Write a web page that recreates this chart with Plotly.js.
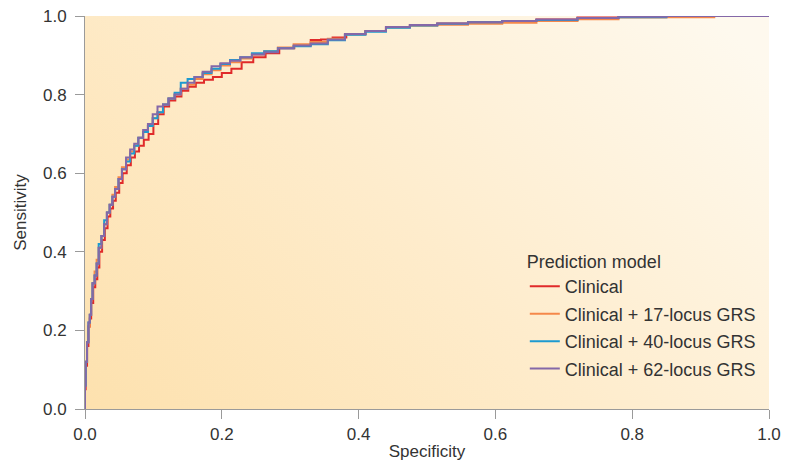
<!DOCTYPE html>
<html>
<head>
<meta charset="utf-8">
<script src="https://cdn.plot.ly/plotly-3.0.1.min.js"></script>
<style>
html,body{margin:0;padding:0;background:#fff;}
#chart{width:787px;height:466px;}
</style>
</head>
<body>
<div id="chart"></div>
<script>
// ---- Data ----
var seriesNames = ["Clinical", "Clinical + 17-locus GRS", "Clinical + 40-locus GRS", "Clinical + 62-locus GRS"];
var seriesColors = ["#e02a2a", "#f5884a", "#1d9ad0", "#8468a8"];

var clinicalX = [0, 0.001, 0.003, 0.005, 0.007, 0.009, 0.012, 0.015, 0.018, 0.021, 0.025, 0.029, 0.033, 0.037, 0.041, 0.045, 0.050, 0.055, 0.061, 0.067, 0.073, 0.079, 0.086, 0.093, 0.100, 0.107, 0.115, 0.123, 0.132, 0.141, 0.151, 0.162, 0.174, 0.187, 0.200, 0.214, 0.229, 0.246, 0.264, 0.284, 0.306, 0.330, 0.345, 0.362, 0.382, 0.410, 0.440, 0.475, 0.515, 0.560, 0.610, 0.660, 0.720, 0.780, 0.850, 0.920, 1.0];
var clinicalY = [0, 0.05, 0.11, 0.16, 0.21, 0.23, 0.27, 0.31, 0.33, 0.36, 0.40, 0.43, 0.46, 0.49, 0.51, 0.53, 0.55, 0.575, 0.60, 0.62, 0.64, 0.655, 0.67, 0.685, 0.70, 0.725, 0.75, 0.77, 0.785, 0.795, 0.81, 0.82, 0.83, 0.838, 0.845, 0.855, 0.866, 0.882, 0.895, 0.905, 0.918, 0.926, 0.939, 0.940, 0.945, 0.954, 0.962, 0.972, 0.977, 0.981, 0.984, 0.987, 0.991, 0.996, 0.998, 1.0, 1.0];

var grs17X = [0, 0.001, 0.003, 0.005, 0.007, 0.009, 0.011, 0.014, 0.017, 0.020, 0.024, 0.028, 0.032, 0.036, 0.040, 0.044, 0.049, 0.054, 0.060, 0.066, 0.072, 0.078, 0.085, 0.092, 0.099, 0.106, 0.114, 0.122, 0.131, 0.140, 0.150, 0.160, 0.172, 0.185, 0.198, 0.212, 0.227, 0.244, 0.262, 0.282, 0.305, 0.330, 0.355, 0.380, 0.410, 0.440, 0.475, 0.515, 0.560, 0.610, 0.660, 0.720, 0.780, 0.850, 0.920, 0.958, 1.0];
var grs17Y = [0, 0.06, 0.12, 0.17, 0.21, 0.24, 0.28, 0.32, 0.35, 0.38, 0.41, 0.44, 0.47, 0.50, 0.52, 0.545, 0.565, 0.59, 0.615, 0.635, 0.655, 0.67, 0.69, 0.705, 0.72, 0.74, 0.755, 0.775, 0.79, 0.80, 0.815, 0.825, 0.84, 0.852, 0.862, 0.874, 0.882, 0.892, 0.902, 0.910, 0.920, 0.928, 0.934, 0.942, 0.953, 0.962, 0.971, 0.975, 0.978, 0.980, 0.983, 0.987, 0.992, 0.996, 0.997, 1.0, 1.0];

var grs40X = [0, 0.001, 0.003, 0.005, 0.007, 0.009, 0.011, 0.014, 0.017, 0.020, 0.024, 0.028, 0.032, 0.036, 0.040, 0.044, 0.049, 0.054, 0.060, 0.066, 0.072, 0.078, 0.085, 0.092, 0.099, 0.106, 0.114, 0.122, 0.131, 0.140, 0.150, 0.160, 0.172, 0.185, 0.198, 0.212, 0.227, 0.244, 0.262, 0.282, 0.305, 0.330, 0.355, 0.380, 0.410, 0.440, 0.475, 0.515, 0.560, 0.610, 0.660, 0.720, 0.780, 0.850, 0.920, 1.0];
var grs40Y = [0, 0.06, 0.12, 0.17, 0.22, 0.24, 0.28, 0.32, 0.34, 0.37, 0.42, 0.44, 0.48, 0.50, 0.52, 0.54, 0.56, 0.585, 0.61, 0.63, 0.65, 0.67, 0.69, 0.705, 0.72, 0.74, 0.755, 0.775, 0.79, 0.805, 0.83, 0.84, 0.845, 0.855, 0.866, 0.878, 0.888, 0.895, 0.905, 0.910, 0.918, 0.923, 0.928, 0.938, 0.952, 0.960, 0.970, 0.976, 0.980, 0.984, 0.987, 0.990, 0.995, 0.997, 1.0, 1.0];

var grs62X = [0, 0.001, 0.003, 0.005, 0.007, 0.009, 0.011, 0.014, 0.017, 0.020, 0.024, 0.028, 0.032, 0.036, 0.040, 0.044, 0.049, 0.054, 0.060, 0.066, 0.072, 0.078, 0.085, 0.092, 0.099, 0.106, 0.114, 0.122, 0.131, 0.140, 0.150, 0.160, 0.172, 0.185, 0.198, 0.212, 0.227, 0.244, 0.262, 0.282, 0.305, 0.330, 0.355, 0.380, 0.410, 0.440, 0.475, 0.515, 0.560, 0.610, 0.660, 0.720, 0.780, 0.850, 0.920, 1.0];
var grs62Y = [0, 0.06, 0.12, 0.17, 0.22, 0.24, 0.28, 0.32, 0.34, 0.37, 0.41, 0.44, 0.47, 0.50, 0.52, 0.54, 0.56, 0.585, 0.61, 0.64, 0.66, 0.675, 0.69, 0.71, 0.725, 0.75, 0.77, 0.775, 0.79, 0.80, 0.815, 0.83, 0.845, 0.858, 0.872, 0.880, 0.886, 0.895, 0.902, 0.908, 0.918, 0.925, 0.930, 0.940, 0.954, 0.962, 0.972, 0.977, 0.981, 0.984, 0.987, 0.991, 0.995, 0.998, 1.0, 1.0];

var xTickVals = [0, 0.2, 0.4, 0.6, 0.8, 1.0];
var yTickVals = [0, 0.2, 0.4, 0.6, 0.8, 1.0];

// ---- Background gradient image (built on a canvas) ----
function gradientURL() {
  var c = document.createElement("canvas");
  c.width = 684; c.height = 393;
  var g = c.getContext("2d");
  var grd = g.createLinearGradient(0, c.height, c.width * 0.75, -c.height * 0.3);
  grd.addColorStop(0, "#fde1ae");
  grd.addColorStop(0.5, "#feeccc");
  grd.addColorStop(1, "#fef9ee");
  g.fillStyle = grd;
  g.fillRect(0, 0, c.width, c.height);
  return c.toDataURL("image/png");
}

var xs = [clinicalX, grs17X, grs40X, grs62X];
var ys = [clinicalY, grs17Y, grs40Y, grs62Y];
var traces = seriesNames.map(function (n, i) {
  return {
    type: "scatter", mode: "lines", name: n,
    x: xs[i], y: ys[i],
    legendgroup: "g" + i,
    line: {color: seriesColors[i], width: 2, shape: "vh"},
    hoverinfo: "skip"
  };
});

var font = "'Liberation Sans', Arial, sans-serif";
var layout = {
  width: 787, height: 466,
  margin: {l: 85, r: 18, t: 16, b: 57},
  paper_bgcolor: "#ffffff",
  plot_bgcolor: "rgba(0,0,0,0)",
  font: {family: font, size: 17, color: "#333333"},
  showlegend: true,
  legend: {
    x: 0.643, y: 0.418, xanchor: "left", yanchor: "top",
    bgcolor: "rgba(0,0,0,0)",
    font: {family: font, size: 18, color: "#333333"},
    title: {text: "Prediction model", font: {family: font, size: 18, color: "#333333"}},
    tracegroupgap: 1,
    traceorder: "grouped"
  },
  xaxis: {
    range: [0, 1], tickvals: xTickVals, tickformat: ".1f",
    ticks: "outside", ticklen: 9, tickcolor: "#9a9a9a", tickwidth: 1,
    ticklabelstandoff: 1,
    showline: true, linecolor: "#9a9a9a", linewidth: 1,
    showgrid: false, zeroline: false,
    tickfont: {family: font, size: 17, color: "#333333"},
    title: {text: "Specificity", font: {family: font, size: 17, color: "#333333"}, standoff: 1},
    fixedrange: true
  },
  yaxis: {
    range: [0, 1], tickvals: yTickVals, tickformat: ".1f",
    ticks: "outside", ticklen: 9, tickcolor: "#9a9a9a", tickwidth: 1,
    ticklabelstandoff: 5,
    showline: true, linecolor: "#9a9a9a", linewidth: 1,
    showgrid: false, zeroline: false,
    tickfont: {family: font, size: 17, color: "#333333"},
    title: {text: "Sensitivity", font: {family: font, size: 17, color: "#333333"}, standoff: 12},
    fixedrange: true
  },
  images: [{
    source: gradientURL(), xref: "paper", yref: "paper",
    x: 0, y: 1, sizex: 1, sizey: 1, xanchor: "left", yanchor: "top",
    sizing: "stretch", layer: "below"
  }]
};

Plotly.newPlot("chart", traces, layout, {displayModeBar: false, staticPlot: true});
</script>
</body>
</html>
